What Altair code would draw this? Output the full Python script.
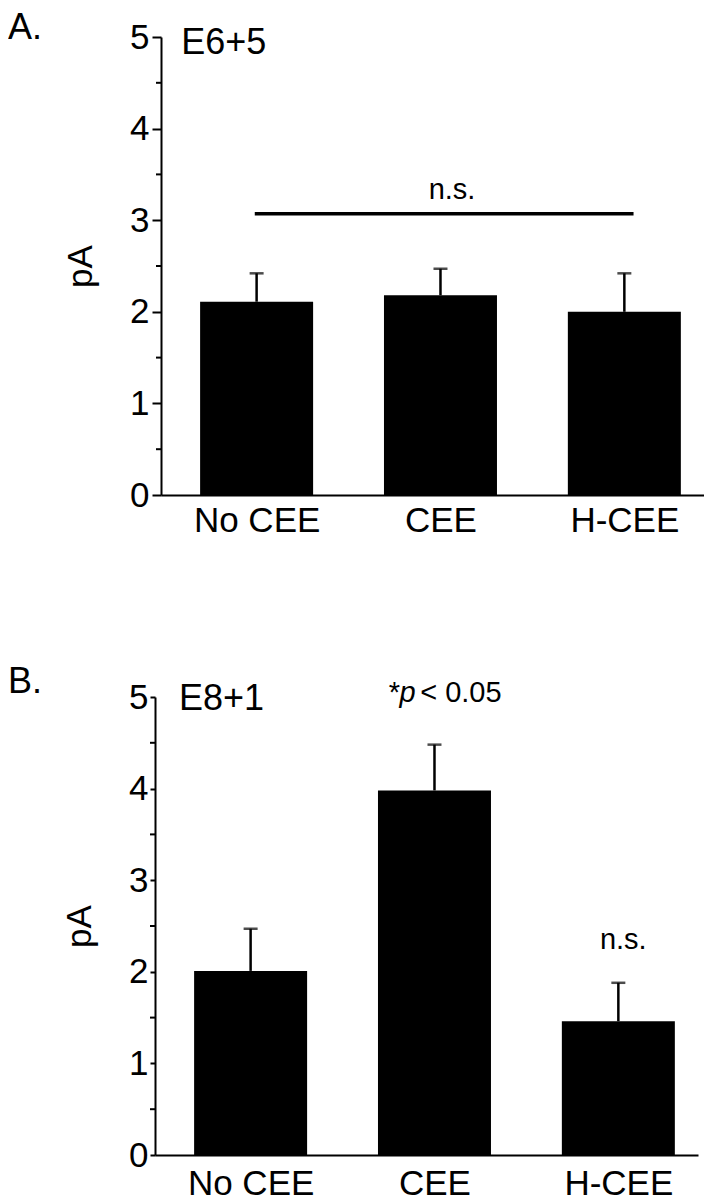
import altair as alt
import pandas as pd

FONT = "Liberation Sans"

# ---- data ----
categories = ["No CEE", "CEE", "H-CEE"]
a_mean = [2.11, 2.18, 2.00]
a_upper = [2.42, 2.47, 2.42]
b_mean = [2.01, 3.98, 1.46]
b_upper = [2.47, 4.48, 1.88]

y_major = [0, 1, 2, 3, 4, 5]
y_minor = [0.5, 1.5, 2.5, 3.5, 4.5]

# significance bar of panel A (x in category-index units, y in pA)
a_line_x = [-0.01]
a_line_x2 = [2.05]
a_line_y = [3.07]

# annotation texts
a_note_text = ["n.s."]
a_note_x = [1.063]
a_note_y = [3.23]

b_note_text = ["n.s."]
b_note_x = [2.027]
b_note_y = [2.25]

b_sig_text = ["*", "p", "< 0.05"]
b_sig_x = [0.751, 0.810, 0.922]
b_sig_y = [4.95, 4.95, 4.95]
b_sig_style = ["normal", "italic", "normal"]

W, H = 543, 458
XDOM = [-0.4928, 2.406]

label_expr = "[" + ",".join("'" + c + "'" for c in categories) + "][datum.value]"


def panel(mean, upper, letter, letter_dy, cond_text, cond_x, cond_y,
          shift, tick_size, label_pad, title_pad, xlabel_pad, extra_layers):
    df = pd.DataFrame({"cat": categories, "idx": list(range(len(categories))),
                       "mean": mean, "upper": upper})
    if shift:
        xs = alt.Scale(domain=XDOM, range=[-shift, W - shift], nice=False, zero=False)
    else:
        xs = alt.Scale(domain=XDOM, nice=False, zero=False)
    ys = alt.Scale(domain=[0, 5], nice=False)
    x_axis = alt.Axis(values=list(range(len(categories))), labelExpr=label_expr,
                      ticks=False, tickSize=0, grid=False, title=None,
                      labelFont=FONT, labelFontSize=35, labelColor="black",
                      labelPadding=xlabel_pad, domainColor="black", domainWidth=2,
                      labelFlush=False)
    y_axis = alt.Axis(values=y_major, format="d", tickSize=tick_size, tickWidth=2,
                      tickColor="black", domainColor="black", domainWidth=2,
                      labelFont=FONT, labelFontSize=35, labelColor="black",
                      labelPadding=label_pad, grid=False, title="pA",
                      titleFont=FONT, titleFontSize=35, titleFontWeight="normal",
                      titleColor="black", titlePadding=title_pad, offset=shift)
    base = alt.Chart(df)
    bars = base.mark_bar(color="black", size=113).encode(
        x=alt.X("idx:Q", scale=xs, axis=x_axis),
        y=alt.Y("mean:Q", scale=ys, axis=y_axis),
    )
    err = base.mark_rule(color="black", strokeWidth=2.5).encode(
        x=alt.X("idx:Q", scale=xs), y=alt.Y("mean:Q", scale=ys), y2="upper:Q"
    )
    caps = base.mark_tick(color="black", orient="horizontal", size=14, thickness=2.5).encode(
        x=alt.X("idx:Q", scale=xs), y=alt.Y("upper:Q", scale=ys)
    )
    minor = alt.Chart(pd.DataFrame({"v": y_minor})).mark_rule(color="black", strokeWidth=2).encode(
        x=alt.value(-5 - shift), x2=alt.value(-shift), y=alt.Y("v:Q", scale=ys)
    )
    let = alt.Chart(pd.DataFrame({"t": [letter]})).mark_text(
        font=FONT, fontSize=36, color="black", align="left", baseline="alphabetic"
    ).encode(x=alt.value(-153), y=alt.value(letter_dy), text="t:N")
    cond = alt.Chart(pd.DataFrame({"t": [cond_text], "x": [cond_x], "y": [cond_y]})).mark_text(
        font=FONT, fontSize=36, color="black", align="left", baseline="alphabetic"
    ).encode(x=alt.X("x:Q", scale=xs), y=alt.Y("y:Q", scale=ys), text="t:N")
    layers = [bars, err, caps, minor, let, cond] + extra_layers(xs, ys)
    return alt.layer(*layers).properties(width=W, height=H)


def a_extra(xs, ys):
    line = alt.Chart(pd.DataFrame({"x": a_line_x, "x2": a_line_x2, "y": a_line_y})).mark_rule(
        color="black", strokeWidth=3.5).encode(
        x=alt.X("x:Q", scale=xs), x2="x2:Q", y=alt.Y("y:Q", scale=ys))
    note = alt.Chart(pd.DataFrame({"t": a_note_text, "x": a_note_x, "y": a_note_y})).mark_text(
        font=FONT, fontSize=29, color="black", align="center", baseline="alphabetic"
    ).encode(x=alt.X("x:Q", scale=xs), y=alt.Y("y:Q", scale=ys), text="t:N")
    return [line, note]


def b_extra(xs, ys):
    note = alt.Chart(pd.DataFrame({"t": b_note_text, "x": b_note_x, "y": b_note_y})).mark_text(
        font=FONT, fontSize=29, color="black", align="center", baseline="alphabetic"
    ).encode(x=alt.X("x:Q", scale=xs), y=alt.Y("y:Q", scale=ys), text="t:N")
    sig_df = pd.DataFrame({"t": b_sig_text, "x": b_sig_x, "y": b_sig_y, "s": b_sig_style})
    layers = [note]
    for style in ["normal", "italic"]:
        layers.append(
            alt.Chart(sig_df[sig_df["s"] == style]).mark_text(
                font=FONT, fontSize=29, color="black", align="left",
                baseline="alphabetic", fontStyle=style
            ).encode(x=alt.X("x:Q", scale=xs), y=alt.Y("y:Q", scale=ys), text="t:N")
        )
    return layers


panel_a = panel(a_mean, a_upper, "A.", 2, "E6+5", -0.41, 4.814,
                0, 9, 3, 31, 8.5, a_extra)
panel_b = panel(b_mean, b_upper, "B.", -4, "E8+1", -0.39, 4.863,
                6, 5, 2, 31, 11, b_extra)

chart = alt.vconcat(panel_a, panel_b, spacing=125).properties(
    padding={"left": 0, "top": 2, "right": 0, "bottom": 0},
    background="white",
).configure_view(strokeWidth=0, stroke="transparent")

chart.save("out.html", embed_options={"renderer": "svg", "actions": False})
